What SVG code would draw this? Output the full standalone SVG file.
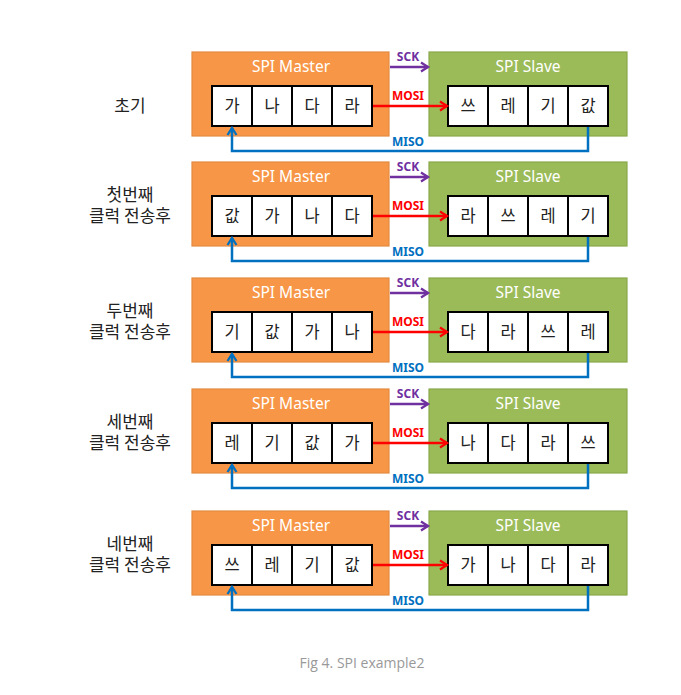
<svg xmlns="http://www.w3.org/2000/svg" width="681" height="695" viewBox="0 0 681 695">
<style>
.master{fill:#F79646;stroke:#E38A40;stroke-width:1.2}
.slave{fill:#9BBB59;stroke:#89A84C;stroke-width:1.2}
.cell{fill:#fff;stroke:#000;stroke-width:2}
.ttl{font-family:"Noto Sans","Noto Sans CJK KR",sans-serif;font-size:15.5px;fill:#fff;text-anchor:middle}
.ct{font-family:"Noto Sans CJK KR",sans-serif;font-size:16.5px;fill:#222;text-anchor:middle}
.lbl{font-family:"Noto Sans CJK KR",sans-serif;font-size:17px;fill:#222;text-anchor:middle}
.sig{font-family:"Noto Sans","Liberation Sans",sans-serif;font-size:12px;font-weight:bold;text-anchor:middle}
.w{fill:none;stroke-width:2.5}
.cap{font-family:"Open Sans","Noto Sans",sans-serif;font-size:14px;fill:#999;text-anchor:middle}
</style>
<defs>
<marker id="aP" markerWidth="12" markerHeight="12" refX="9" refY="6" orient="auto" markerUnits="userSpaceOnUse"><path d="M2,1.5 L9,6 L2,10.5" fill="none" stroke="#7030A0" stroke-width="2.3"/></marker>
<marker id="aR" markerWidth="12" markerHeight="12" refX="9" refY="6" orient="auto" markerUnits="userSpaceOnUse"><path d="M2,1.5 L9,6 L2,10.5" fill="none" stroke="#FF0000" stroke-width="2.3"/></marker>
<marker id="aB" markerWidth="12" markerHeight="12" refX="9" refY="6" orient="auto" markerUnits="userSpaceOnUse"><path d="M2,1.5 L9,6 L2,10.5" fill="none" stroke="#0070C0" stroke-width="2.3"/></marker>
<g id="row">
<rect class="master" x="192" y="0" width="197" height="84"/>
<rect class="slave" x="429" y="0" width="198" height="84"/>
<text class="ttl" x="291" y="20">SPI Master</text>
<text class="ttl" x="528" y="20">SPI Slave</text>
<rect class="cell" x="212" y="34" width="40" height="40"/>
<rect class="cell" x="252" y="34" width="40" height="40"/>
<rect class="cell" x="292" y="34" width="40" height="40"/>
<rect class="cell" x="332" y="34" width="40" height="40"/>
<rect class="cell" x="448" y="34" width="40" height="40"/>
<rect class="cell" x="488" y="34" width="40" height="40"/>
<rect class="cell" x="528" y="34" width="40" height="40"/>
<rect class="cell" x="568" y="34" width="40" height="40"/>
</g>
<g id="wires">
<line class="w" x1="390" y1="15" x2="428" y2="15" stroke="#7030A0" marker-end="url(#aP)"/>
<line class="w" x1="373" y1="54" x2="447" y2="54" stroke="#FF0000" marker-end="url(#aR)"/>
<polyline class="w" points="588,75 588,99 232,99 232,76" stroke="#0070C0" marker-end="url(#aB)"/>
<text class="sig" x="408" y="9" fill="#7030A0">SCK</text>
<text class="sig" x="408" y="48" fill="#FF0000">MOSI</text>
<text class="sig" x="408" y="94" fill="#0070C0">MISO</text>
</g>
</defs>
<rect width="681" height="695" fill="#fff"/>

<g id="row1" transform="translate(0,52)">
<use href="#row"/>
<text class="lbl" x="130" y="60">초기</text>
<g class="ct"><text x="232" y="60">가</text><text x="272" y="60">나</text><text x="312" y="60">다</text><text x="352" y="60">라</text><text x="468" y="60">쓰</text><text x="508" y="60">레</text><text x="548" y="60">기</text><text x="588" y="60">값</text></g>
</g>
<g id="row2" transform="translate(0,162)">
<use href="#row"/>
<text class="lbl" x="130" y="39">첫번째</text><text class="lbl" x="130" y="60">클럭 전송후</text>
<g class="ct"><text x="232" y="60">값</text><text x="272" y="60">가</text><text x="312" y="60">나</text><text x="352" y="60">다</text><text x="468" y="60">라</text><text x="508" y="60">쓰</text><text x="548" y="60">레</text><text x="588" y="60">기</text></g>
</g>
<g id="row3" transform="translate(0,278)">
<use href="#row"/>
<text class="lbl" x="130" y="39">두번째</text><text class="lbl" x="130" y="60">클럭 전송후</text>
<g class="ct"><text x="232" y="60">기</text><text x="272" y="60">값</text><text x="312" y="60">가</text><text x="352" y="60">나</text><text x="468" y="60">다</text><text x="508" y="60">라</text><text x="548" y="60">쓰</text><text x="588" y="60">레</text></g>
</g>
<g id="row4" transform="translate(0,389)">
<use href="#row"/>
<text class="lbl" x="130" y="39">세번째</text><text class="lbl" x="130" y="60">클럭 전송후</text>
<g class="ct"><text x="232" y="60">레</text><text x="272" y="60">기</text><text x="312" y="60">값</text><text x="352" y="60">가</text><text x="468" y="60">나</text><text x="508" y="60">다</text><text x="548" y="60">라</text><text x="588" y="60">쓰</text></g>
</g>
<g id="row5" transform="translate(0,511)">
<use href="#row"/>
<text class="lbl" x="130" y="39">네번째</text><text class="lbl" x="130" y="60">클럭 전송후</text>
<g class="ct"><text x="232" y="60">쓰</text><text x="272" y="60">레</text><text x="312" y="60">기</text><text x="352" y="60">값</text><text x="468" y="60">가</text><text x="508" y="60">나</text><text x="548" y="60">다</text><text x="588" y="60">라</text></g>
</g>
<g id="connectors">
<use href="#wires" transform="translate(0,52)"/>
<use href="#wires" transform="translate(0,162)"/>
<use href="#wires" transform="translate(0,278)"/>
<use href="#wires" transform="translate(0,389)"/>
<use href="#wires" transform="translate(0,511)"/>
</g>
<text class="cap" x="362" y="668">Fig 4. SPI example2</text>
</svg>
